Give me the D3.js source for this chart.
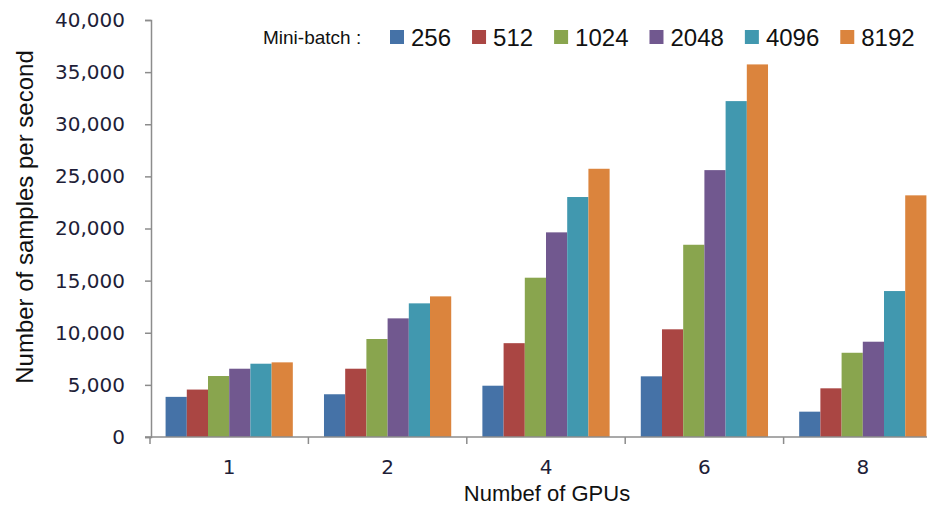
<!DOCTYPE html>
<html>
<head>
<meta charset="utf-8">
<script src="https://cdn.jsdelivr.net/npm/d3@7"></script>
<style>
  html, body { margin: 0; padding: 0; background: #fff; }
  svg { display: block; }
</style>
</head>
<body>
<svg id="chart" width="927" height="507"></svg>
<script>
const categories = ["1", "2", "4", "6", "8"];
const seriesNames = ["256", "512", "1024", "2048", "4096", "8192"];
const s256  = [3850, 4100, 4920, 5820, 2430];
const s512  = [4550, 6550, 9000, 10330, 4670];
const s1024 = [5850, 9400, 15280, 18440, 8080];
const s2048 = [6550, 11380, 19630, 25600, 9140];
const s4096 = [7030, 12820, 23020, 32220, 14000];
const s8192 = [7160, 13490, 25730, 35740, 23180];
const yTicks = [0, 5000, 10000, 15000, 20000, 25000, 30000, 35000, 40000];
const colors = ["#4572A7", "#AA4643", "#89A54E", "#71588F", "#4198AF", "#DB843D"];

const seriesValues = [s256, s512, s1024, s2048, s4096, s8192];

const svg = d3.select("#chart");

const x = d3.scaleBand().domain(categories).range([150, 942]).paddingInner(0).paddingOuter(0);
const xSub = d3.scaleBand().domain(seriesNames).range([0, x.bandwidth()]).paddingInner(0).paddingOuter(0.735);
const y = d3.scaleLinear().domain([0, 40000]).range([437, 20]);

// bars
const groups = svg.append("g").selectAll("g")
  .data(categories)
  .join("g")
  .attr("transform", d => `translate(${x(d)},0)`);

groups.selectAll("rect")
  .data((c, ci) => seriesNames.map((s, si) => ({ s, si, v: seriesValues[si][ci] })))
  .join("rect")
  .attr("x", d => xSub(d.s))
  .attr("width", xSub.bandwidth())
  .attr("y", d => y(d.v))
  .attr("height", d => y(0) - y(d.v))
  .attr("fill", d => colors[d.si]);

// y axis
const yAxis = svg.append("g")
  .attr("transform", "translate(151,0)")
  .call(d3.axisLeft(y).tickValues(yTicks).tickSize(6).tickPadding(20)
    .tickFormat(d3.format(",")));
yAxis.select(".domain").attr("stroke", "#8c8c8c").attr("stroke-width", 1.5);
yAxis.selectAll(".tick line").attr("stroke", "#8c8c8c").attr("stroke-width", 1.5);
yAxis.selectAll(".tick text")
  .attr("font-family", "'DejaVu Sans', Verdana, sans-serif")
  .attr("font-size", 20)
  .attr("fill", "#1e1e38");

// x axis
const xAxis = svg.append("g")
  .attr("transform", "translate(0,437)")
  .call(d3.axisBottom(x).tickSize(0).tickPadding(23));
xAxis.select(".domain").attr("stroke", "#8c8c8c").attr("stroke-width", 1.5)
  .attr("d", "M145,0H942");
xAxis.selectAll(".tick text")
  .attr("font-family", "'DejaVu Sans', Verdana, sans-serif")
  .attr("font-size", 20)
  .attr("fill", "#1e1e38");
// boundary ticks between categories
xAxis.append("g").selectAll("line")
  .data(categories)
  .join("line")
  .attr("x1", d => x(d))
  .attr("x2", d => x(d))
  .attr("y1", 0)
  .attr("y2", 7)
  .attr("stroke", "#8c8c8c")
  .attr("stroke-width", 1.5);

// axis titles
svg.append("text")
  .attr("x", 547)
  .attr("y", 501)
  .attr("text-anchor", "middle")
  .attr("font-family", "'Liberation Sans', Arial, sans-serif")
  .attr("font-size", 22)
  .attr("fill", "#111")
  .text("Numbef of GPUs");

svg.append("text")
  .attr("transform", "translate(24,217) rotate(-90)")
  .attr("text-anchor", "middle")
  .attr("dominant-baseline", "central")
  .attr("font-family", "'Liberation Sans', Arial, sans-serif")
  .attr("font-size", 24)
  .attr("fill", "#111")
  .text("Number of samples per second");

// legend
const legend = svg.append("g");
legend.append("text")
  .attr("x", 263)
  .attr("y", 37)
  .attr("dominant-baseline", "central")
  .attr("font-family", "'Liberation Sans', Arial, sans-serif")
  .attr("font-size", 19)
  .attr("fill", "#111")
  .text("Mini-batch :");

let lx = 390;
seriesNames.forEach((s, i) => {
  legend.append("rect")
    .attr("x", lx).attr("y", 30).attr("width", 14).attr("height", 14)
    .attr("fill", colors[i]);
  const t = legend.append("text")
    .attr("x", lx + 21)
    .attr("y", 37)
    .attr("dominant-baseline", "central")
    .attr("font-family", "'Liberation Sans', Arial, sans-serif")
    .attr("font-size", 24)
    .attr("fill", "#111")
    .text(s);
  lx = lx + 21 + t.node().getComputedTextLength() + 21;
});
</script>
</body>
</html>
